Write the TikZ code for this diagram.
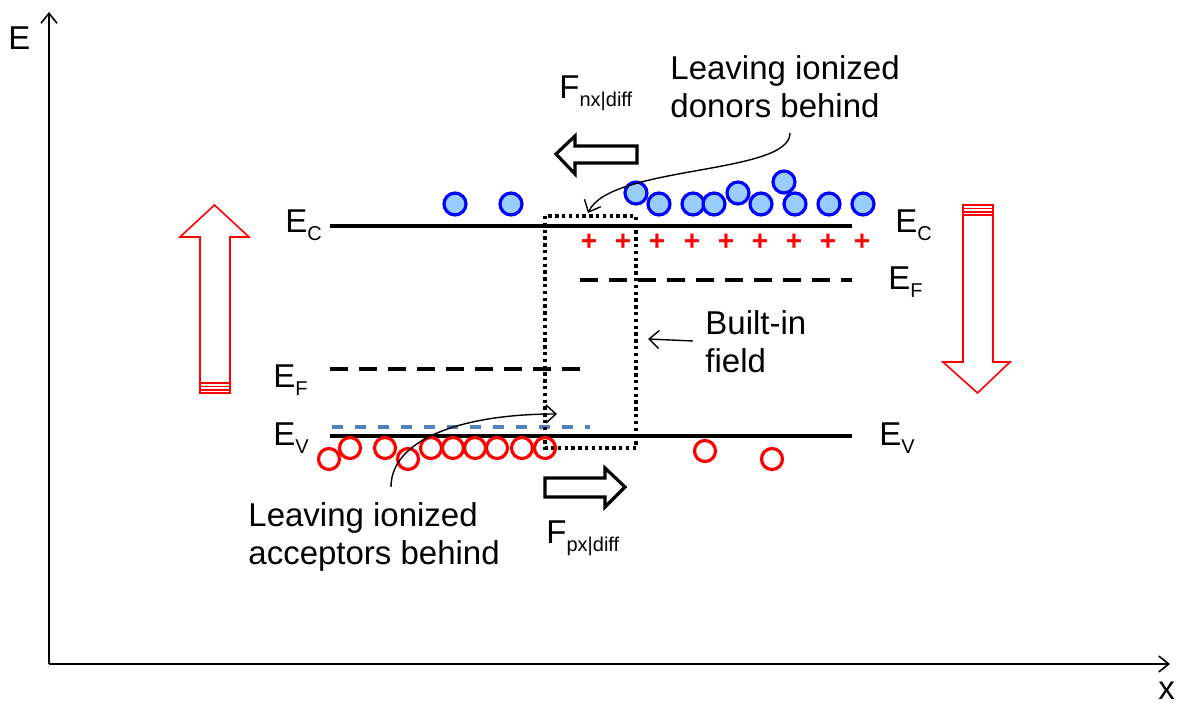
\documentclass[tikz,border=0pt]{standalone}
\usepackage{fontspec}
\setmainfont{Liberation Sans}
\usetikzlibrary{arrows.meta, positioning}
\definecolor{fillblue}{HTML}{99CCFF}
\definecolor{dashblue}{HTML}{4F81BD}
\newcommand{\lvl}[2]{#1\raisebox{-4pt}{\fontsize{10}{10}\selectfont #2}}

\begin{document}
\begin{tikzpicture}[
    x=0.5pt, y=-0.5pt,
    every node/.style={font=\fontsize{16.5}{19}\selectfont, inner sep=0pt},
    % Band styles
    bandline/.style={line width=1.6pt},
    fermiline/.style={line width=1.6pt, dash pattern=on 9pt off 5.5pt},
    acceptline/.style={line width=2.2pt, dashblue, dash pattern=on 5.5pt off 6pt},
    dotbox/.style={line width=1.7pt, dash pattern=on 1.7pt off 1.7pt},
    % Carrier styles
    elec/.style={circle, draw=blue, fill=fillblue, line width=1.6pt,
      minimum size=11pt, inner sep=0pt},
    hole/.style={circle, draw=red, line width=1.6pt,
      minimum size=10.5pt, inner sep=0pt},
    ion/.style={font=\fontsize{14}{14}\selectfont\bfseries, text=red},
    % Arrow styles
    axis/.style={-{Straight Barb[length=5pt, width=8pt]}, line width=0.8pt},
    note/.style={-{Straight Barb[length=5pt, width=9pt]}, line width=0.7pt},
    blockarr/.style={line width=1.6pt, line join=miter},
    bigarr/.style={draw=red, line width=0.8pt, line join=miter}
  ]
  \useasboundingbox (0,0) rectangle (1178,705);

  % ============ Axes ============
  \coordinate (origin) at (49,664);
  \coordinate (etop) at (49,12);
  \coordinate (xend) at (1170,664);
  \draw[axis] (origin) -- (etop);
  \draw[axis] (origin) -- (xend);
  \node[anchor=base west] (elabel) at (8,50) {E};
  \node[anchor=base west] (xlabel) at (1158,699) {x};

  % ============ Band edges ============
  \draw[bandline] (330,226) -- (852,226);
  \draw[bandline] (330,436) -- (852,436);
  \draw[fermiline] (330,369) -- (580,369);
  \draw[fermiline] (580,280) -- (852,280);
  \draw[acceptline] (332,427) -- (590,427);

  \node[anchor=base west] (ecl) at (285,233) {\lvl{E}{C}};
  \node[anchor=base west] (efl) at (273,388) {\lvl{E}{F}};
  \node[anchor=base west] (evl) at (273,445) {\lvl{E}{V}};
  \node[anchor=base west] (ecr) at (895,233) {\lvl{E}{C}};
  \node[anchor=base west] (efr) at (888,290) {\lvl{E}{F}};
  \node[anchor=base west] (evr) at (879,445) {\lvl{E}{V}};

  % ============ Depletion region ============
  \draw[dotbox] (545,216) rectangle (636,448);

  % ============ Electrons ============
  \node[elec] (e1) at (455,204) {};
  \node[elec] (e2) at (511,204) {};
  \node[elec] (e3) at (636,193) {};
  \node[elec] (e4) at (659,204) {};
  \node[elec] (e5) at (693,204) {};
  \node[elec] (e6) at (714,204) {};
  \node[elec] (e7) at (738,193) {};
  \node[elec] (e8) at (761,204) {};
  \node[elec] (e9) at (784,182) {};
  \node[elec] (e10) at (795,204) {};
  \node[elec] (e11) at (829,204) {};
  \node[elec] (e12) at (863,204) {};

  % ============ Ionized donors ============
  \node[ion] (d1) at (589,242) {+};
  \node[ion] (d2) at (623,242) {+};
  \node[ion] (d3) at (657,242) {+};
  \node[ion] (d4) at (692,242) {+};
  \node[ion] (d5) at (726,242) {+};
  \node[ion] (d6) at (760,242) {+};
  \node[ion] (d7) at (794,242) {+};
  \node[ion] (d8) at (828,242) {+};
  \node[ion] (d9) at (862,242) {+};

  % ============ Holes ============
  \node[hole] (h1) at (329,459) {};
  \node[hole] (h2) at (350,448) {};
  \node[hole] (h3) at (385,448) {};
  \node[hole] (h4) at (408,459) {};
  \node[hole] (h5) at (431,448) {};
  \node[hole] (h6) at (453,448) {};
  \node[hole] (h7) at (475,448) {};
  \node[hole] (h8) at (497,448) {};
  \node[hole] (h9) at (522,448) {};
  \node[hole] (h10) at (545,448) {};
  \node[hole] (h11) at (705,451) {};
  \node[hole] (h12) at (772,459) {};

  % ============ Diffusion forces ============
  \draw[blockarr] (556,154) -- (575,136) -- (575,146) -- (637,146)
    -- (637,163) -- (575,163) -- (575,174) -- cycle;
  \node[anchor=base west] (fnx) at (559,99) {\lvl{F}{nx|diff}};
  \draw[blockarr] (545,478) -- (605,478) -- (605,468) -- (625,487)
    -- (605,507) -- (605,497) -- (545,497) -- cycle;
  \node[anchor=base west] (fpx) at (546,543) {\lvl{F}{px|diff}};

  % ============ Band bending arrows ============
  \draw[bigarr] (200,393) -- (200,237) -- (180,237) -- (214.5,205)
    -- (249,237) -- (230,237) -- (230,393) -- cycle;
  \draw[red, line width=0.8pt] (200,383) -- (230,383)
    (200,386.5) -- (230,386.5) (200,390) -- (230,390);
  \draw[bigarr] (963,205) -- (963,362) -- (943,362) -- (977.5,393)
    -- (1010,362) -- (993,362) -- (993,205) -- cycle;
  \draw[red, line width=0.8pt] (963,208.5) -- (993,208.5)
    (963,212) -- (993,212) (963,215) -- (993,215);

  % ============ Annotations ============
  \node[anchor=west, align=left] (donors) at (670,87)
    {Leaving ionized\\donors behind};
  \node[anchor=west, align=left] (acceptors) at (248,537)
    {Leaving ionized\\acceptors behind};
  \node[anchor=west, align=left] (field) at (705,342)
    {Built-in\\field};

  \coordinate (dontail) at (790,133);
  \coordinate (dontip) at (588,213);
  \draw[note] (dontail) .. controls (790,175) and (610,165) .. (dontip);
  \coordinate (acctail) at (391,487);
  \coordinate (acctip) at (557,414);
  \draw[note] (acctail) .. controls (391,440) and (460,414) .. (acctip);
  \coordinate (fieldtail) at (693,341);
  \coordinate (fieldtip) at (648,339);
  \draw[note] (fieldtail) -- (fieldtip);

\end{tikzpicture}
\end{document}
